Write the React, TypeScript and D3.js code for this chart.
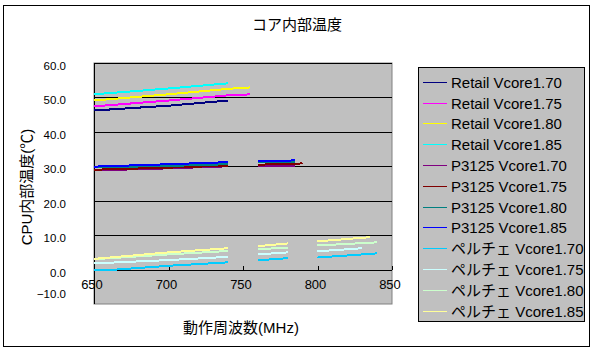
import React from "react";
import * as d3 from "d3";

const W = 594;
const H = 353;

const title = "コア内部温度";
const xTitle = "動作周波数(MHz)";
const yTitle = "CPU内部温度(℃)";

const xTicks = [650, 700, 750, 800, 850];
const yTicks = [-10, 0, 10, 20, 30, 40, 50, 60];

const seriesNames = [
  "Retail Vcore1.70",
  "Retail Vcore1.75",
  "Retail Vcore1.80",
  "Retail Vcore1.85",
  "P3125 Vcore1.70",
  "P3125 Vcore1.75",
  "P3125 Vcore1.80",
  "P3125 Vcore1.85",
  "ペルチェ Vcore1.70",
  "ペルチェ Vcore1.75",
  "ペルチェ Vcore1.80",
  "ペルチェ Vcore1.85",
];

const seriesColors = [
  "#000080",
  "#ff00ff",
  "#ffff00",
  "#00ffff",
  "#800080",
  "#800000",
  "#008080",
  "#0000ff",
  "#00ccff",
  "#ccffff",
  "#ccffcc",
  "#ffff99",
];

// Retail
const retailFreqA = [650, 700, 740];
const retailFreqB = [650, 700, 740, 755];
const retail170 = [46.2, 47.6, 49.1];
const retail175 = [47.4, 49.1, 50.6, 50.9];
const retail180 = [49.1, 50.9, 52.5, 52.9];
const retail185 = [50.9, 52.6, 54.1];

// P3125 (null = gap)
const p3125Freq = [650, 700, 740, 750, 760, 785];
const p3125FreqLong = [650, 700, 740, 750, 760, 785, 790];
const p3125_170 = [28.8, 29.4, 30.0, null, 30.1, 30.2];
const p3125_175 = [29.0, 29.6, 30.2, null, 30.5, 30.6, 30.9];
const p3125_180 = [29.7, 30.1, 30.6, null, 31.1, 31.2];
const p3125_185 = [29.9, 30.6, 31.2, null, 31.5, 31.7];

// Peltier (null = gap)
const peltFreq170 = [650, 665, 700, 740, 750, 760, 780, 790, 800, 840];
const pelt170 = [0.0, 0.0, 1.1, 2.1, null, 2.7, 3.3, null, 3.5, 4.7];
const peltFreq175 = [650, 700, 740, 750, 760, 780, 790, 800, 830];
const pelt175 = [1.8, 2.75, 3.7, null, 4.4, 5.0, null, 5.3, 6.2];
const peltFreq180 = [650, 700, 740, 750, 760, 780, 790, 800, 840];
const pelt180 = [3.0, 4.4, 5.4, null, 5.9, 6.4, null, 7.0, 7.9];
const peltFreq185 = [650, 700, 740, 750, 760, 780, 790, 800, 835];
const pelt185 = [3.1, 5.0, 6.2, null, 6.8, 7.6, null, 8.2, 9.4];

const seriesData: [number[], (number | null)[]][] = [
  [retailFreqA, retail170],
  [retailFreqB, retail175],
  [retailFreqB, retail180],
  [retailFreqA, retail185],
  [p3125Freq, p3125_170],
  [p3125FreqLong, p3125_175],
  [p3125Freq, p3125_180],
  [p3125Freq, p3125_185],
  [peltFreq170, pelt170],
  [peltFreq175, pelt175],
  [peltFreq180, pelt180],
  [peltFreq185, pelt185],
];

const FONT = "'Liberation Sans', 'Noto Sans CJK JP', sans-serif";

export default function App() {
  const plot = { left: 94, right: 392, top: 63, bottom: 304 };
  const x = d3.scaleLinear().domain([650, 850]).range([plot.left, plot.right]);
  const y = d3.scaleLinear().domain([-10, 60]).range([plot.bottom, plot.top]);

  const line = d3
    .line<[number, number | null]>()
    .defined((d) => d[1] !== null)
    .x((d) => x(d[0]))
    .y((d) => y(d[1] as number));

  const legend = { x: 418, y: 67, w: 166, h: 254, row0: 81.7, step: 20.8 };

  return (
    <svg
      width={W}
      height={H}
      style={{ position: "absolute", left: 0, top: 0, fontFamily: FONT }}
    >
      <rect x={0} y={0} width={W} height={H} fill="#ffffff" />
      <rect x={3.5} y={5.5} width={586} height={341} fill="none" stroke="#000" strokeWidth={1} />

      <text x={297} y={30} fontSize={15} textAnchor="middle" fill="#000">
        {title}
      </text>

      {/* plot area */}
      <rect
        x={plot.left}
        y={plot.top}
        width={plot.right - plot.left}
        height={plot.bottom - plot.top}
        fill="#c0c0c0"
        stroke="#808080"
        strokeWidth={1}
      />
      {yTicks
        .filter((t) => t > 0)
        .map((t) => (
          <line
            key={"g" + t}
            x1={plot.left}
            x2={plot.right}
            y1={Math.round(y(t)) + 0.5}
            y2={Math.round(y(t)) + 0.5}
            stroke="#000"
            strokeWidth={1}
          />
        ))}
      {/* x axis at 0 */}
      <line
        x1={plot.left}
        x2={plot.right}
        y1={Math.round(y(0)) + 0.5}
        y2={Math.round(y(0)) + 0.5}
        stroke="#000"
        strokeWidth={1}
      />
      {xTicks.map((t) => (
        <line
          key={"xt" + t}
          x1={Math.round(x(t)) + 0.5}
          x2={Math.round(x(t)) + 0.5}
          y1={Math.round(y(0))}
          y2={Math.round(y(0)) - 4}
          stroke="#000"
          strokeWidth={1}
        />
      ))}
      {/* y axis */}
      <line
        x1={plot.left + 0.5}
        x2={plot.left + 0.5}
        y1={plot.top}
        y2={plot.bottom}
        stroke="#000"
        strokeWidth={1}
      />

      {/* series */}
      <g shapeRendering="crispEdges">
        {seriesData.map(([xs, ys], i) => {
          const pts: [number, number | null][] = xs.map((xv, j) => [xv, ys[j] ?? null]);
          return (
            <path
              key={"s" + i}
              d={line(pts) || ""}
              fill="none"
              stroke={seriesColors[i]}
              strokeWidth={2}
            />
          );
        })}
      </g>

      {/* tick labels */}
      {xTicks.map((t) => (
        <text key={"xl" + t} x={x(t) - 2} y={289} fontSize={13} textAnchor="middle" fill="#000">
          {t}
        </text>
      ))}
      {yTicks.map((t) => (
        <text
          key={"yl" + t}
          x={66}
          y={t === -10 ? y(t) - 10 + 4 : y(t) + 3 + 4}
          fontSize={11.5}
          textAnchor="end"
          fill="#000"
        >
          {t < 0 ? "−" + Math.abs(t).toFixed(1) : t.toFixed(1)}
        </text>
      ))}

      <text x={241} y={333} fontSize={15} textAnchor="middle" fill="#000">
        {xTitle}
      </text>
      <text
        transform="translate(32,187) rotate(-90)"
        fontSize={15}
        textAnchor="middle"
        fill="#000"
      >
        {yTitle}
      </text>

      {/* legend */}
      <rect
        x={legend.x + 0.5}
        y={legend.y + 0.5}
        width={legend.w}
        height={legend.h}
        fill="#c0c0c0"
        stroke="#000"
        strokeWidth={1}
      />
      {seriesNames.map((name, i) => {
        const cy = Math.round(legend.row0 + i * legend.step);
        return (
          <g key={"l" + i}>
            <line
              x1={423}
              x2={447}
              y1={cy + 0.5}
              y2={cy + 0.5}
              stroke={seriesColors[i]}
              strokeWidth={1}
            />
            <text x={451} y={cy + 5.5} fontSize={15} fill="#000">
              {name}
            </text>
          </g>
        );
      })}
    </svg>
  );
}
